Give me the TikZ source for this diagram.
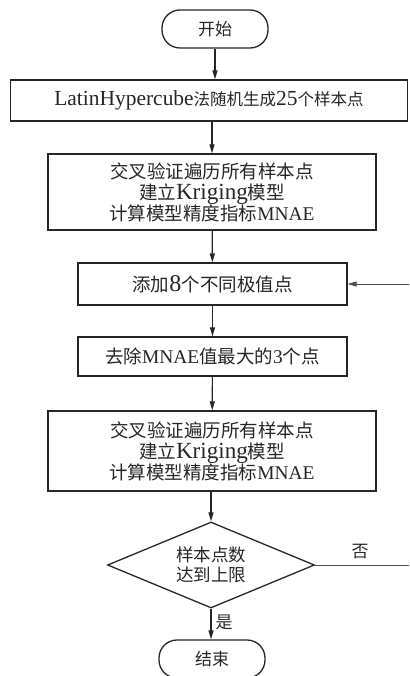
\documentclass[tikz,border=0pt]{standalone}
\usepackage{fontspec}
\setmainfont{Liberation Serif}[Scale=1.05]
\newfontfamily\cjk{Noto Sans CJK SC}
\newfontfamily\latA{Liberation Serif}[Scale=1.3]
\newfontfamily\latK{Liberation Serif}[Scale=1.25]
\usetikzlibrary{shapes.geometric,arrows.meta}
\newcommand{\zh}[1]{{\cjk #1}}
\begin{document}
\begin{tikzpicture}[x=1pt,y=-1pt,
  every node/.style={font=\fontsize{18.5}{21}\selectfont, text=black!85, align=center, inner sep=0pt},
  boxnode/.style={draw=black!85, line width=1.3pt, rectangle},
  term/.style={draw=black!85, line width=1.3pt, rectangle, rounded corners=18pt, font=\fontsize{17}{20}\selectfont},
  decide/.style={draw=black!85, line width=1.3pt, diamond, aspect=2.4, font=\fontsize{17.5}{19.5}\selectfont},
  flow/.style={draw=black!85, line width=1.2pt, -{Triangle[length=9pt,width=5pt]}},
  thinflow/.style={draw=black!70, line width=0.7pt, -{Triangle[length=9pt,width=5pt]}},
  thinline/.style={draw=black!70, line width=0.7pt},
  lbl/.style={font=\fontsize{17}{20}\selectfont}]
\useasboundingbox (0,0) rectangle (409,676);
\node[term, minimum width=106pt, minimum height=38pt] (start) at (215,29) {\zh{开始}};
\node[boxnode, minimum width=397pt, minimum height=41pt, font=\fontsize{16.5}{19.5}\latA] (b1) at (209,100.5) {LatinHypercube\zh{法随机生成}25\zh{个样本点}};
\node[boxnode, minimum width=328pt, minimum height=76pt] (b2) at (212,192) {\zh{交叉验证遍历所有样本点}\\\zh{建立}{\latK Kriging}\zh{模型}\\\zh{计算模型精度指标}MNAE};
\node[boxnode, minimum width=269pt, minimum height=42pt] (b3) at (212.5,284) {\zh{添加}{\latA 8}\zh{个不同极值点}};
\node[boxnode, minimum width=269pt, minimum height=39pt] (b4) at (212.5,356.5) {\zh{去除}MNAE\zh{值最大的}3\zh{个点}};
\node[boxnode, minimum width=328pt, minimum height=80pt] (b5) at (212,451) {\zh{交叉验证遍历所有样本点}\\\zh{建立}{\latK Kriging}\zh{模型}\\\zh{计算模型精度指标}MNAE};
\node[decide, minimum width=207pt, minimum height=86pt] (d) at (211,565) {\zh{样本点数}\\\zh{达到上限}};
\node[term, minimum width=106pt, minimum height=38pt] (end) at (212,659) {\zh{结束}};
\coordinate (fb) at (409,284);
\coordinate (no) at (409,565);
\draw[flow] (start) -- (start |- b1.north);
\draw[flow] (b1.south -| b2.north) -- (b2.north);
\draw[flow] (b2) -- (b3);
\draw[flow] (b3) -- (b4);
\draw[flow] (b4) -- (b5);
\draw[flow] (b5.south -| d.north) -- (d.north);
\draw[flow] (d.south) -- (d.south |- end.north) node[lbl, pos=0.45, right=4pt] {\zh{是}};
\draw[thinflow] (fb) -- (b3.east);
\draw[thinline] (d.east) -- (no) node[lbl, pos=0.48, above=6pt] {\zh{否}};
\end{tikzpicture}
\end{document}
